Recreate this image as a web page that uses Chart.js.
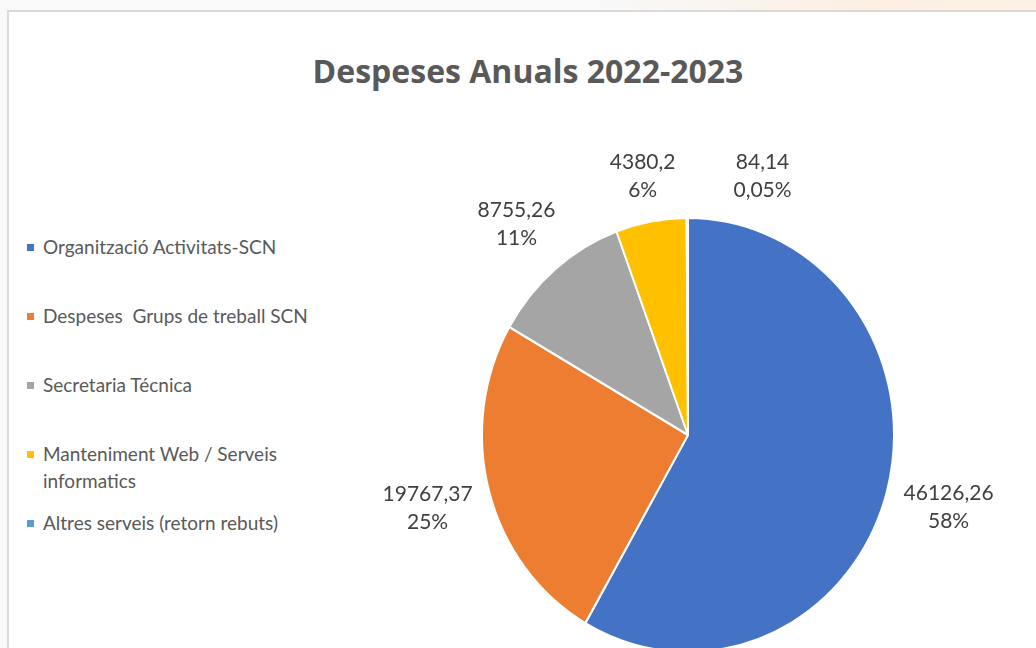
<!DOCTYPE html>
<html><head><meta charset="utf-8">
<script src="https://cdn.jsdelivr.net/npm/chart.js@4.4.0/dist/chart.umd.min.js"></script>
<style>
html,body{margin:0;padding:0;background:#fafafa;}
#wrap{position:relative;width:1036px;height:648px;overflow:hidden;background:#f9f9f9;}
#tint{position:absolute;left:600px;top:0;width:436px;height:12px;background:linear-gradient(90deg,rgba(249,249,249,0) 0%,rgba(252,238,224,0.9) 60%,rgba(253,241,228,1) 100%);}
#frame{position:absolute;left:7px;top:10px;width:1100px;height:700px;background:#fff;border:2px solid #d9d9d9;box-sizing:border-box;}
#title{position:absolute;left:8px;width:1040px;top:55px;text-align:center;font-family:'Open Sans';font-weight:bold;font-size:32px;line-height:32px;color:#595959;white-space:nowrap;}
canvas{position:absolute;left:0;top:0;}
#legend{position:absolute;left:27px;top:233px;font-family:Lato;font-size:19px;color:#595959;}
.item{height:69px;position:relative;padding-left:16px;white-space:pre;line-height:27px;}
.sw{position:absolute;left:0;top:11px;width:7px;height:7px;}
</style>
</head>
<body>
<div id="wrap">
  <div id="tint"></div>
  <div id="frame"></div>
  <div id="title"></div>
  <div id="legend"></div>
  <canvas id="c" width="1036" height="648"></canvas>
</div>
<script>
// ---- data ----
const chartTitle = 'Despeses Anuals 2022-2023';
const categories = [
  'Organització Activitats-SCN',
  'Despeses  Grups de treball SCN',
  'Secretaria Técnica',
  ['Manteniment Web / Serveis', 'informatics'],
  'Altres serveis (retorn rebuts)'
];
const values = [46126.26, 19767.37, 8755.26, 4380.2, 84.14];
const percentLabels = ['58%', '25%', '11%', '6%', '0,05%'];
const colors = ['#4472C4', '#ED7D31', '#A5A5A5', '#FFC000', '#5B9BD5'];

// ---- layout / style ----
const stretchY = 217 / 206;
const labelFont = '21px Lato';
const labelColor = '#404040';
const lineH = 28;
const gap = 13;
const spacing = 58;

document.getElementById('title').textContent = chartTitle;
const legend = document.getElementById('legend');
categories.forEach((cat, i) => {
  const it = document.createElement('div');
  it.className = 'item';
  const sw = document.createElement('span');
  sw.className = 'sw';
  sw.style.background = colors[i];
  it.appendChild(sw);
  it.appendChild(document.createTextNode(Array.isArray(cat) ? cat.join('\n') : cat));
  legend.appendChild(it);
});

const fmt = v => String(v).replace('.', ',');

const ellipsePlugin = {
  id: 'ellipse',
  beforeDatasetsDraw(chart) {
    const a = chart.getDatasetMeta(0).data[0];
    const ctx = chart.ctx;
    ctx.save();
    ctx.translate(a.x, a.y);
    ctx.scale(1, stretchY);
    ctx.translate(-a.x, -a.y);
  },
  afterDatasetsDraw(chart) { chart.ctx.restore(); }
};

const labelPlugin = {
  id: 'outLabels',
  afterDraw(chart) {
    const ctx = chart.ctx;
    const meta = chart.getDatasetMeta(0);
    ctx.save();
    ctx.font = labelFont;
    ctx.fillStyle = labelColor;
    ctx.textAlign = 'center';
    ctx.textBaseline = 'middle';
    let prev = null;
    meta.data.forEach((arc, i) => {
      const p = arc.getProps(['x', 'y', 'startAngle', 'endAngle', 'outerRadius'], true);
      const mid = (p.startAngle + p.endAngle) / 2;
      const c = Math.cos(mid), s = Math.sin(mid);
      const lines = [fmt(values[i]), percentLabels[i]];
      const w = Math.max(...lines.map(t => ctx.measureText(t).width));
      const h = lines.length * lineH;
      const ax = p.x + p.outerRadius * c;
      const ay = p.y + p.outerRadius * stretchY * s;
      const ext = gap + Math.abs(c) * w / 2 + Math.abs(s) * h / 2;
      let lx = ax + c * ext, ly = ay + s * ext;
      if (prev && Math.abs(ly - prev.y) < (h + prev.h) / 2 &&
          lx - w / 2 < prev.x + prev.w / 2 && lx + w / 2 > prev.x - prev.w / 2) {
        lx = prev.x + prev.w / 2 + spacing + w / 2;
        ly = prev.y;
      }
      lines.forEach((t, k) => ctx.fillText(t, lx, ly + (k - (lines.length - 1) / 2) * lineH));
      prev = { x: lx, y: ly, w, h };
    });
    ctx.restore();
  }
};

new Chart(document.getElementById('c'), {
  type: 'pie',
  data: {
    labels: categories,
    datasets: [{
      data: values,
      backgroundColor: colors,
      borderColor: '#ffffff',
      borderWidth: 2
    }]
  },
  options: {
    responsive: false,
    animation: false,
    events: [],
    layout: { padding: { left: 481, right: 141, top: 228, bottom: 6 } },
    plugins: { legend: { display: false }, title: { display: false }, tooltip: { enabled: false } }
  },
  plugins: [ellipsePlugin, labelPlugin]
});
</script>
</body></html>
